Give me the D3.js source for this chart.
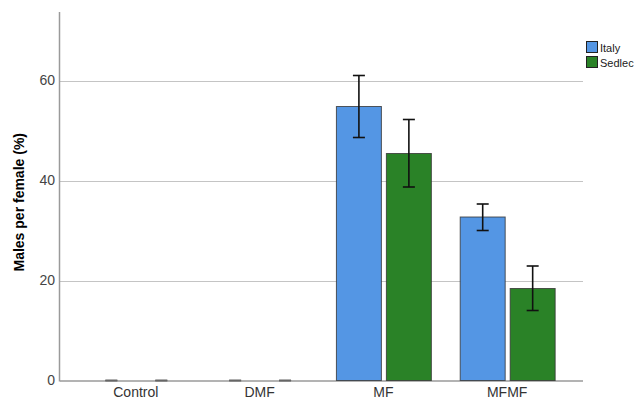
<!DOCTYPE html>
<html><head><meta charset="utf-8">
<script src="https://cdn.jsdelivr.net/npm/d3@7"></script>
<style>body{margin:0;background:#fff;overflow:hidden}svg{display:block;font-family:"Liberation Sans",Arial,sans-serif}</style>
</head><body><svg id="c" width="635" height="403"></svg>
<script>
const categories = ["Control", "DMF", "MF", "MFMF"];
const series = ["Italy", "Sedlec"];
const italyMean = [0, 0, 54.8, 32.7];
const italyLow  = [0, 0, 48.6, 30.0];
const italyHigh = [0, 0, 61.0, 35.3];
const sedlecMean = [0, 0, 45.4, 18.4];
const sedlecLow  = [0, 0, 38.7, 14.0];
const sedlecHigh = [0, 0, 52.2, 22.9];
const yTicks = [0, 20, 40, 60];
const colors = ["#5496E4", "#2A8227"];

const svg = d3.select("#c");
const L = 60, R = 583, T = 12, B = 380.5;
const x = d3.scaleBand().domain(categories).range([L, R]).paddingInner(0.233).paddingOuter(0.229);
const xs = d3.scaleBand().domain(series).range([0, x.bandwidth()]).paddingInner(0.1);
const y = d3.scaleLinear().domain([0, 73.7]).range([B, T]);

const data = [];
categories.forEach((c, i) => {
  data.push({c, s: "Italy", v: italyMean[i], lo: italyLow[i], hi: italyHigh[i], col: colors[0]});
  data.push({c, s: "Sedlec", v: sedlecMean[i], lo: sedlecLow[i], hi: sedlecHigh[i], col: colors[1]});
});

// gridlines
svg.append("g").selectAll("line").data(yTicks.filter(d => d > 0)).join("line")
  .attr("x1", L).attr("x2", R).attr("y1", d => Math.round(y(d)) + 0.5).attr("y2", d => Math.round(y(d)) + 0.5)
  .attr("stroke", "#c4c4c4").attr("stroke-width", 1);

// y axis
const ya = svg.append("g").attr("transform", `translate(${L},0)`)
  .call(d3.axisLeft(y).tickValues(yTicks).tickSize(0).tickPadding(5));
ya.select(".domain").remove();
ya.selectAll("text").attr("font-size", 14).attr("fill", "#444").attr("font-family", "Liberation Sans, Arial, sans-serif");
svg.append("line").attr("x1", L - 0.5).attr("x2", L - 0.5).attr("y1", T).attr("y2", B + 1).attr("stroke", "#9a9a9a").attr("stroke-width", 1.5);

// x axis
const xa = svg.append("g").attr("transform", `translate(0,${B})`)
  .call(d3.axisBottom(x).tickSize(0).tickPadding(7));
xa.select(".domain").remove();
xa.selectAll("text").attr("font-size", 14).attr("fill", "#333").attr("font-family", "Liberation Sans, Arial, sans-serif");
svg.append("line").attr("x1", L).attr("x2", R).attr("y1", B + 0.5).attr("y2", B + 0.5).attr("stroke", "#9a9a9a").attr("stroke-width", 1.5);

// bars
svg.append("g").selectAll("rect").data(data).join("rect")
  .attr("x", d => x(d.c) + xs(d.s) + 0.5)
  .attr("y", d => y(d.v))
  .attr("width", xs.bandwidth())
  .attr("height", d => B - y(d.v))
  .attr("fill", d => d.col)
  .attr("stroke", d => d.v > 0 ? "#333" : "#888").attr("stroke-width", 1).attr("stroke-opacity", 0.8);

// error bars
const eb = svg.append("g").attr("stroke-width", 1.6);
data.forEach(d => {
  const cx = x(d.c) + xs(d.s) + xs.bandwidth() / 2 + 0.5;
  const col = d.v > 0 ? "#111" : "#666";
  eb.append("line").attr("stroke", col).attr("x1", cx).attr("x2", cx).attr("y1", y(d.hi)).attr("y2", y(d.lo));
  eb.append("line").attr("stroke", col).attr("x1", cx - 6).attr("x2", cx + 6).attr("y1", y(d.hi)).attr("y2", y(d.hi));
  eb.append("line").attr("stroke", col).attr("x1", cx - 6).attr("x2", cx + 6).attr("y1", y(d.lo)).attr("y2", y(d.lo));
});

// y title
svg.append("text").attr("transform", `translate(24,${(T + B) / 2 + 6}) rotate(-90)`)
  .attr("text-anchor", "middle").attr("font-size", 14).attr("font-weight", "bold").attr("fill", "#000")
  .text("Males per female (%)");

// legend
const lg = svg.append("g").attr("transform", "translate(586,41)");
series.forEach((s, i) => {
  lg.append("rect").attr("x", 0.5).attr("y", i * 15 + 0.5).attr("width", 11).attr("height", 11)
    .attr("fill", colors[i]).attr("stroke", "#222").attr("stroke-width", 1);
  lg.append("text").attr("x", 14).attr("y", i * 15 + 10.5).attr("font-size", 11).attr("fill", "#222").text(s);
});
</script></body></html>
